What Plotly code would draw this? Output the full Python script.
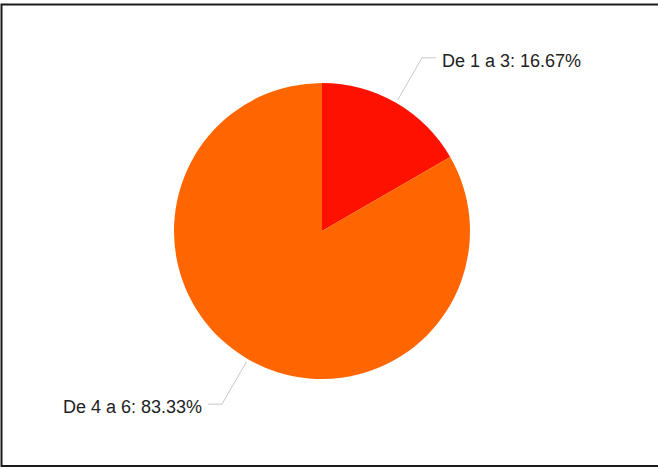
import math
import plotly.graph_objects as go

# Share of respondents per range
categories = ["De 1 a 3", "De 4 a 6"]
shares = [16.67, 83.33]
slice_colors = ["#ff1100", "#ff6600"]

W, H = 658, 469
cx, cy, radius = 322, 231, 148          # pie centre and radius in pixels
elbow_r, tail, gap = 200, 14, 4          # leader-line geometry in pixels


def px(x):
    return x / W


def py(y):
    return 1 - y / H


fig = go.Figure()
fig.add_trace(go.Pie(
    labels=categories,
    values=shares,
    sort=False,
    direction="clockwise",
    rotation=0,
    marker=dict(colors=slice_colors, line=dict(width=0)),
    textinfo="none",
    hoverinfo="label+percent",
    showlegend=False,
    domain=dict(x=[px(cx - radius), px(cx + radius)],
                y=[py(cy + radius), py(cy - radius)]),
))

shapes = []
annotations = []
total = sum(shares)
start = 0.0
for name, val in zip(categories, shares):
    frac = val / total
    mid = (start + frac / 2) * 2 * math.pi
    start += frac
    sx, sy = math.sin(mid), -math.cos(mid)
    x0, y0 = cx + (radius + 3) * sx, cy + (radius + 3) * sy
    x1, y1 = cx + elbow_r * sx, cy + elbow_r * sy
    side = 1 if sx >= 0 else -1
    x2 = x1 + side * tail
    shapes.append(dict(
        type="path", xref="paper", yref="paper",
        path=f"M {px(x0)} {py(y0)} L {px(x1)} {py(y1)} L {px(x2)} {py(y1)}",
        line=dict(color="#c8c8c8", width=1),
    ))
    annotations.append(dict(
        xref="paper", yref="paper",
        x=px(x2 + side * gap), y=py(y1 + 3),
        text=f"{name}: {val:.2f}%",
        showarrow=False,
        xanchor="left" if side > 0 else "right",
        yanchor="middle",
        font=dict(family="Liberation Sans, Arial, sans-serif", size=18, color="#222222"),
    ))

# outer frame
shapes.append(dict(
    type="rect", xref="paper", yref="paper",
    x0=px(1.5), x1=px(W + 4), y0=py(466), y1=py(4.5),
    line=dict(color="#1a1a1a", width=2),
    fillcolor="rgba(0,0,0,0)",
))

fig.update_layout(
    width=W, height=H,
    margin=dict(l=0, r=0, t=0, b=0),
    paper_bgcolor="white",
    plot_bgcolor="white",
    shapes=shapes,
    annotations=annotations,
)

fig.write_html("out.html")
